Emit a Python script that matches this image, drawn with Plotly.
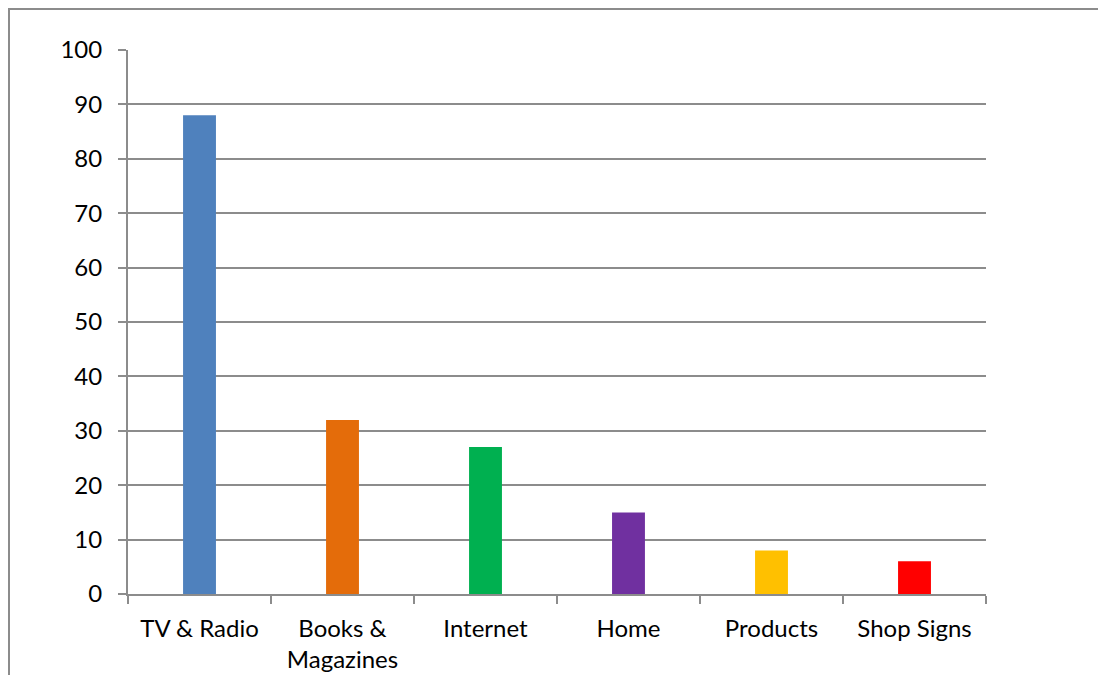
import plotly.graph_objects as go

categories = ["TV & Radio", "Books &<br>Magazines", "Internet", "Home", "Products", "Shop Signs"]
values = [88, 32, 27, 15, 8, 6]
colors = ["#4F81BD", "#E46C0A", "#00B050", "#7030A0", "#FFC000", "#FF0000"]
y_ticks = [0, 10, 20, 30, 40, 50, 60, 70, 80, 90, 100]

# page body has an 8px default margin, so the figure is drawn 8px in from the window edge
OFF = 8
W, H = 1106 - OFF, 675 - OFF
ML, MR, MT, MB = 128 - OFF, 120, 50 - OFF, 81
PW, PH = W - ML - MR, H - MT - MB

fig = go.Figure(go.Bar(x=categories, y=values, marker=dict(color=colors, line=dict(width=0)), width=0.23))

fig.update_layout(
    width=W, height=H,
    margin=dict(l=ML, r=MR, t=MT, b=MB),
    paper_bgcolor="white", plot_bgcolor="white",
    font=dict(family="Lato, Open Sans, sans-serif", size=24, color="black"),
    showlegend=False,
    xaxis=dict(
        showline=True, linecolor="#8c8c8c", linewidth=2,
        ticks="outside", tickson="boundaries", ticklen=8, tickcolor="#8c8c8c", tickwidth=2,
        ticklabelstandoff=12, showgrid=False, automargin=False,
    ),
    yaxis=dict(
        range=[0, 100], tickvals=y_ticks, showline=True, linecolor="#8c8c8c", linewidth=2,
        ticks="outside", ticklen=8, tickcolor="#8c8c8c", tickwidth=2,
        showgrid=True, gridcolor="#8c8c8c", gridwidth=1.5, zeroline=False,
        ticklabelstandoff=11, automargin=False,
    ),
    shapes=[dict(
        type="rect", xref="paper", yref="paper",
        x0=(1 - ML) / PW, x1=(W + 20 - ML) / PW,
        y0=-(H + 20 - MT - PH) / PH, y1=(H - 1 - MB) / PH,
        line=dict(color="#8c8c8c", width=2), fillcolor="rgba(0,0,0,0)", layer="below",
    )],
)

fig.write_html("out.html")
